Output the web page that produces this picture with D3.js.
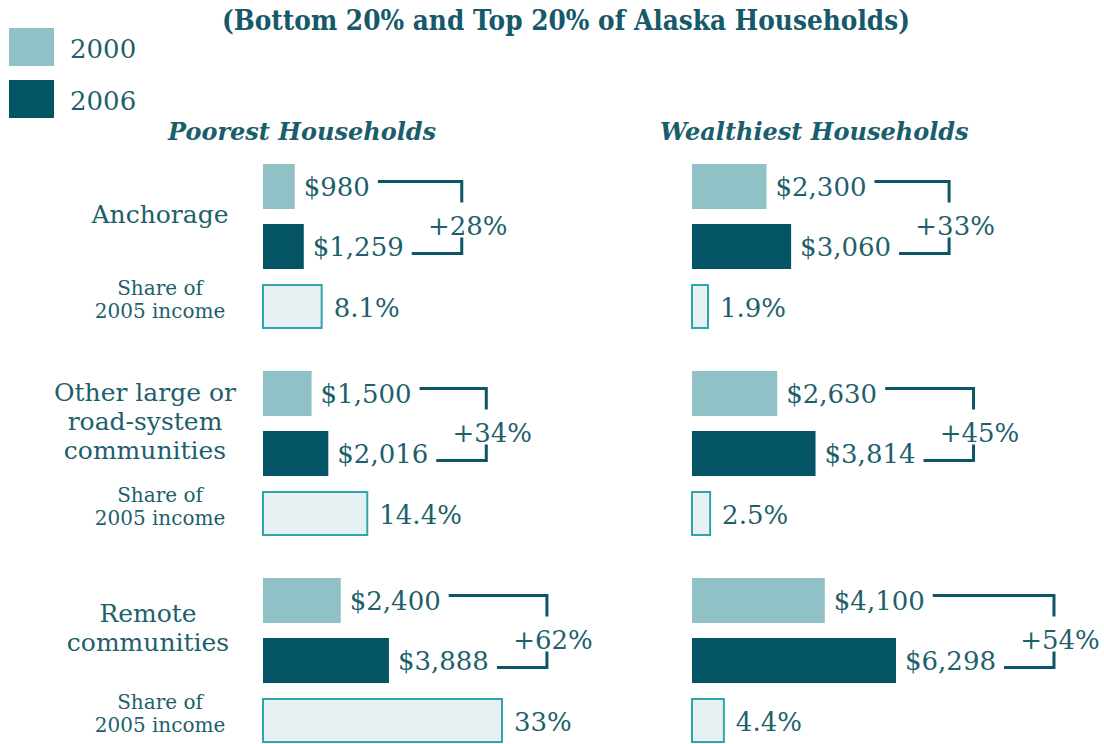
<!DOCTYPE html>
<html>
<head>
<meta charset="utf-8">
<script src="https://cdn.jsdelivr.net/npm/d3@7"></script>
<style>
  html, body { margin: 0; padding: 0; background: #ffffff; }
  svg { display: block; }
  text { font-family: "DejaVu Serif", serif; fill: #1e5f6c; }
</style>
</head>
<body>
<svg id="chart" width="1104" height="744"></svg>
<script>
// ---------- data ----------
const title = "(Bottom 20% and Top 20% of Alaska Households)";
const legendYears = ["2000", "2006"];
const categories = ["Anchorage", "Other large or road-system communities", "Remote communities"];
const categoryLines = [["Anchorage"], ["Other large or", "road-system", "communities"], ["Remote", "communities"]];
const groups = ["Poorest  Households", "Wealthiest  Households"];
const poorest2000 = [980, 1500, 2400];
const poorest2006 = [1259, 2016, 3888];
const poorestShare = [8.1, 14.4, 33];
const wealthiest2000 = [2300, 2630, 4100];
const wealthiest2006 = [3060, 3814, 6298];
const wealthiestShare = [1.9, 2.5, 4.4];
const shareLabel = ["Share of", "2005 income"];

// ---------- styles ----------
const C2000 = "#8fc1c6", C2006 = "#035566", CSHfill = "#e6f0f2", CSHstroke = "#2fa5aa", CLINE = "#0b5565";

const svg = d3.select("#chart");

// title
const t = svg.append("text").attr("x", 566).attr("y", 30).attr("text-anchor", "middle")
  .style("font-size", "27px").style("font-weight", "bold").style("fill", "#15596a").text(title);
t.attr("textLength", 688).attr("lengthAdjust", "spacingAndGlyphs");

// legend
const legY = d3.scaleOrdinal().domain(legendYears).range([28, 80]);
const legC = d3.scaleOrdinal().domain(legendYears).range([C2000, C2006]);
const lg = svg.append("g");
lg.selectAll("rect").data(legendYears).join("rect")
  .attr("x", 9).attr("y", d => legY(d)).attr("width", 45).attr("height", 38)
  .attr("fill", d => legC(d));
lg.selectAll("text").data(legendYears).join("text")
  .attr("x", 70).attr("y", d => legY(d) + 30).style("font-size", "26px").text(d => d);

// scales
const yCat = d3.scaleBand().domain(categories).range([164, 164 + 3 * 207]);
const yRow = d3.scaleBand().domain(["2000", "2006", "share"]).range([0, 165]).paddingInner(0.25);
const xDollar = d3.scaleLinear().domain([0, 6298]).range([0, 204]);
const xShare = d3.scaleLinear().domain([0, 33]).range([0, 239]);
const fmt = d3.format("$,");

const panels = [
  { name: groups[0], x0: 263, hx: 168, v2000: poorest2000, v2006: poorest2006, share: poorestShare },
  { name: groups[1], x0: 692, hx: 660, v2000: wealthiest2000, v2006: wealthiest2006, share: wealthiestShare }
];

// category labels
const catAnchor = [160, 145, 148];
categories.forEach((c, i) => {
  const center = yCat(c) + (yRow("2000") + yRow("2006") + yRow.bandwidth()) / 2;
  const lines = categoryLines[i];
  lines.forEach((ln, j) => {
    svg.append("text").attr("x", catAnchor[i]).attr("text-anchor", "middle")
      .attr("y", center + 6 + (j - (lines.length - 1) / 2) * 29)
      .style("font-size", "25px").text(ln);
  });
  const sc = yCat(c) + yRow("share") + yRow.bandwidth() / 2;
  shareLabel.forEach((ln, j) => {
    svg.append("text").attr("x", 160).attr("text-anchor", "middle")
      .attr("y", sc - 12 + j * 23).style("font-size", "20px").text(ln);
  });
});

panels.forEach(p => {
  svg.append("text").attr("x", p.hx).attr("y", 140)
    .style("font-size", "24px").style("font-style", "italic").style("font-weight", "bold")
    .style("fill", "#1a5d6b").text(p.name);

  const g = svg.append("g").attr("transform", `translate(${p.x0},0)`);
  categories.forEach((c, i) => {
    const y0 = yCat(c);
    const bh = yRow.bandwidth();
    const rows = [
      { key: "2000", v: p.v2000[i], color: C2000 },
      { key: "2006", v: p.v2006[i], color: C2006 }
    ];
    const ends = [];
    rows.forEach(r => {
      const yy = y0 + yRow(r.key);
      g.append("rect").attr("x", 0).attr("y", yy).attr("width", xDollar(r.v)).attr("height", bh).attr("fill", r.color);
      const tx = g.append("text").attr("x", xDollar(r.v) + 9).attr("y", yy + bh / 2 + 9)
        .style("font-size", "26px").text(fmt(r.v));
      ends.push(xDollar(r.v) + 9 + tx.node().getComputedTextLength());
    });
    // share bar
    const ys = y0 + yRow("share");
    const sw = Math.max(xShare(p.share[i]), 16);
    g.append("rect").attr("x", 0).attr("y", ys + 1).attr("width", sw).attr("height", bh - 2)
      .attr("fill", CSHfill).attr("stroke", CSHstroke).attr("stroke-width", 2);
    g.append("text").attr("x", sw + 12).attr("y", ys + bh / 2 + 10)
      .style("font-size", "26px").text(p.share[i] + "%");

    // bracket
    const bx = Math.max(ends[0], ends[1]) + 58;
    const yTop = y0 + yRow("2000") + bh / 2 - 5;
    const yBot = y0 + yRow("2006") + bh / 2 + 7;
    const base = (yTop + yBot) / 2 + 17;
    g.append("path")
      .attr("d", `M${ends[0] + 8},${yTop}H${bx}V${base - 32}`)
      .attr("fill", "none").attr("stroke", CLINE).attr("stroke-width", 3);
    g.append("path")
      .attr("d", `M${ends[1] + 8},${yBot}H${bx}V${base + 3}`)
      .attr("fill", "none").attr("stroke", CLINE).attr("stroke-width", 3);
    const pct = Math.round((p.v2006[i] / p.v2000[i] - 1) * 100);
    g.append("text").attr("x", bx + 6).attr("y", base).attr("text-anchor", "middle")
      .style("font-size", "26px").text("+" + pct + "%");
  });
});
</script>
</body>
</html>
